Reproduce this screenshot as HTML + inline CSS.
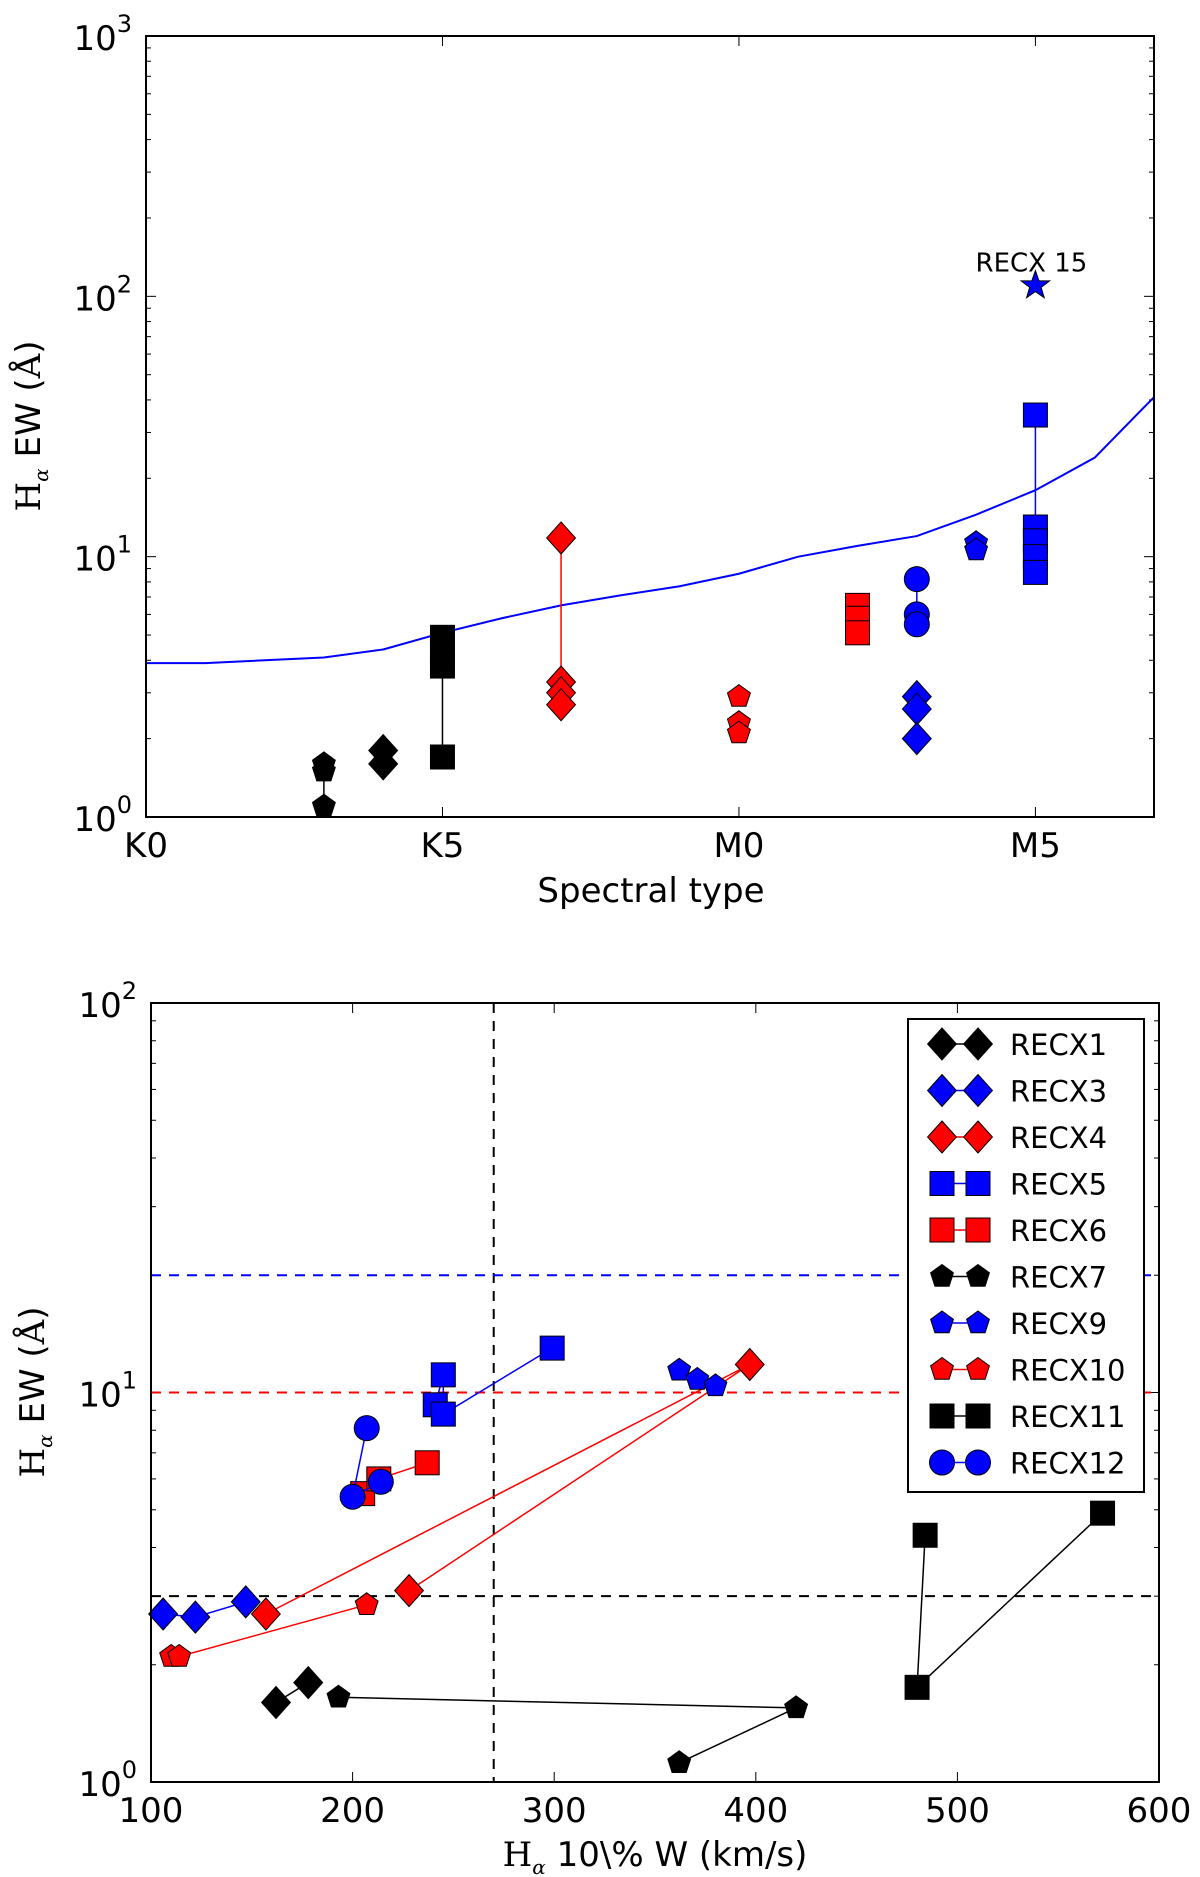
<!DOCTYPE html>
<html><head><meta charset="utf-8">
<style>
html,body{margin:0;padding:0;background:#fff;}
svg{display:block;font-family:"DejaVu Sans","Liberation Sans",sans-serif;}
</style></head>
<body>
<svg id="fig" width="1200" height="1877" viewBox="0 0 1200 1877" xmlns="http://www.w3.org/2000/svg"></svg>
<script>
// ---- Top chart data ----
const topCurveX = [0,1,3,4,5,6,7,8,9,10,11,12,13,14,15,16,17];
const topCurveY = [3.9,3.9,4.1,4.4,5.1,5.8,6.5,7.1,7.7,8.6,10,11,12,14.5,18,24,41];
const topXTickVals = [0,5,10,15];
const topXTickLabels = ["K0","K5","M0","M5"];
const topYTickExps = [0,1,2,3];
const topSeries = [
 {name:"RECX7", m:"pent", c:"#000", x:3, y:[1.6,1.5,1.1], line:true},
 {name:"RECX1", m:"diam", c:"#000", x:4, y:[1.8,1.6], line:false},
 {name:"RECX11", m:"sq", c:"#000", x:5, y:[4.9,4.3,3.8,1.7], line:true},
 {name:"RECX4", m:"diam", c:"#f00", x:7, y:[11.8,3.3,3.0,2.7], line:true},
 {name:"RECX10", m:"pent", c:"#f00", x:10, y:[2.9,2.3,2.1], line:false},
 {name:"RECX6", m:"sq", c:"#f00", x:12, y:[6.5,5.8,5.1], line:false},
 {name:"RECX12", m:"circ", c:"#00f", x:13, y:[8.2,6.0,5.5], line:true},
 {name:"RECX3", m:"diam", c:"#00f", x:13, y:[2.9,2.6,2.0], line:false},
 {name:"RECX9", m:"pent", c:"#00f", x:14, y:[11.3,10.6], line:false},
 {name:"RECX5", m:"sq", c:"#00f", x:15, y:[35,13,11.5,10,8.7], line:true}
];
const starX = 15, starY = 110;

// ---- Bottom chart data ----
const botXTicks = [100,200,300,400,500,600];
const botYTickExps = [0,1,2];
const botNames = ["RECX1","RECX3","RECX4","RECX5","RECX6","RECX7","RECX9","RECX10","RECX11","RECX12"];
const botMarkers = ["diam","diam","diam","sq","sq","pent","pent","pent","sq","circ"];
const botColors = ["#000","#00f","#f00","#00f","#f00","#000","#00f","#f00","#000","#00f"];
const botX = [[162,178],[106,122,147],[157,397,228],[241,245,245,299],[205,213,237],[193,420,362],[362,371,380],[110,114,207],[484,480,572],[207,200,214]];
const botY = [[1.6,1.8],[2.7,2.65,2.9],[2.7,11.8,3.1],[9.3,11.1,8.8,13],[5.5,6.0,6.6],[1.65,1.55,1.12],[11.4,10.8,10.4],[2.1,2.1,2.85],[4.3,1.75,4.9],[8.1,5.4,5.9]];
const vLineX = 270;
const hLines = [20,10,3];
const hLineColors = ["#00f","#f00","#000"];

const NS="http://www.w3.org/2000/svg";
const svg=document.getElementById('fig');
function el(tag,attrs,parent){const e=document.createElementNS(NS,tag);for(const k in attrs)e.setAttribute(k,attrs[k]);(parent||svg).appendChild(e);return e;}

function marker(g,type,cx,cy,color){
  let e;
  if(type==="diam"){const r=16;e=el('polygon',{points:`${cx},${cy-r} ${cx+r*0.9},${cy} ${cx},${cy+r} ${cx-r*0.9},${cy}`},g);}
  else if(type==="sq"){const r=12;e=el('rect',{x:cx-r,y:cy-r,width:2*r,height:2*r},g);}
  else if(type==="circ"){e=el('circle',{cx:cx,cy:cy,r:12.5},g);}
  else if(type==="pent"){const r=12;let p=[];for(let i=0;i<5;i++){const a=-Math.PI/2+i*2*Math.PI/5;p.push((cx+r*Math.cos(a)).toFixed(1)+","+(cy+r*Math.sin(a)).toFixed(1));}e=el('polygon',{points:p.join(" ")},g);}
  else if(type==="star"){const r=15,ri=6;let p=[];for(let i=0;i<10;i++){const a=-Math.PI/2+i*Math.PI/5;const rr=i%2?ri:r;p.push((cx+rr*Math.cos(a)).toFixed(1)+","+(cy+rr*Math.sin(a)).toFixed(1));}e=el('polygon',{points:p.join(" ")},g);}
  e.setAttribute('fill',color);e.setAttribute('stroke','#000');e.setAttribute('stroke-width','1');
  
  
  return e;
}

function logAxis(g,L,R,T,B,sy,exps){
  for(let i=0;i<exps.length;i++){
    const e=exps[i];const y=sy(Math.pow(10,e));
    el('line',{x1:L,y1:y,x2:L+10,y2:y,stroke:'#000','stroke-width':1},g);
    el('line',{x1:R,y1:y,x2:R-10,y2:y,stroke:'#000','stroke-width':1},g);
    const t=el('text',{x:L-14,y:y+14,'font-size':34,'text-anchor':'end',fill:'#000'},g);
    t.textContent="10";
    const s=el('tspan',{dy:-18,'font-size':24},t);s.textContent=e;
    
    
    if(i<exps.length-1){for(let m=2;m<10;m++){const ym=sy(m*Math.pow(10,e));
      el('line',{x1:L,y1:ym,x2:L+5,y2:ym,stroke:'#000','stroke-width':1},g);
      el('line',{x1:R,y1:ym,x2:R-5,y2:ym,stroke:'#000','stroke-width':1},g);}}
  }
}

// ===== TOP CHART =====
(function(){
  const L=146,R=1154,T=36,B=817;
  const sx=v=>L+(v-0)/17*(R-L);
  const sy=v=>B-(Math.log10(v)-0)/3*(B-T);
  const g=el('g',{});
  
  
  logAxis(g,L,R,T,B,sy,topYTickExps);
  for(let i=0;i<topXTickVals.length;i++){const x=sx(topXTickVals[i]);
    el('line',{x1:x,y1:B,x2:x,y2:B-10,stroke:'#000'},g);el('line',{x1:x,y1:T,x2:x,y2:T+10,stroke:'#000'},g);
    const t=el('text',{x:x,y:B+40,'font-size':34,'text-anchor':'middle'},g);t.textContent=topXTickLabels[i];
    
    }
  const pl=el('polyline',{points:topCurveX.map((x,i)=>sx(x)+","+sy(topCurveY[i])).join(" "),fill:'none',stroke:'#00f','stroke-width':2},g);
  
  
  topSeries.forEach(s=>{
    const sg=el('g',{},g);
    
    
    if(s.line){el('line',{x1:sx(s.x),x2:sx(s.x),y1:sy(Math.max(...s.y)),y2:sy(Math.min(...s.y)),stroke:s.c,'stroke-width':1.5},sg);}
    s.y.forEach(v=>marker(sg,s.m,sx(s.x),sy(v),s.c));
  });
  marker(g,"star",sx(starX),sy(starY),"#00f");
  const lab=el('text',{x:sx(starX)-4,y:sy(starY)-14,'font-size':26,'text-anchor':'middle'},g);lab.textContent="RECX 15";
  
  
  el('rect',{x:L,y:T,width:R-L,height:B-T,fill:'none',stroke:'#000','stroke-width':2},g);
  const xl=el('text',{x:651,y:902,'font-size':34,'text-anchor':'middle'},g);xl.textContent="Spectral type";
  
  
  const yl=el('text',{x:0,y:0,'font-size':34,'text-anchor':'middle',transform:'translate(40,426) rotate(-90)'},g);
  yl.innerHTML='<tspan font-family="DejaVu Serif,serif">H</tspan><tspan font-size="20" dy="8" font-style="italic" font-family="DejaVu Serif,serif">α</tspan><tspan dy="-8"> EW (</tspan><tspan font-family="DejaVu Serif,serif">Å</tspan>)';
  
  
})();

// ===== BOTTOM CHART =====
(function(){
  const L=151,R=1159,T=1003,B=1782;
  const sx=v=>L+(v-100)/500*(R-L);
  const sy=v=>B-Math.log10(v)/2*(B-T);
  const g=el('g',{});
  
  
  logAxis(g,L,R,T,B,sy,botYTickExps);
  botXTicks.forEach(v=>{const x=sx(v);
    el('line',{x1:x,y1:B,x2:x,y2:B-10,stroke:'#000'},g);el('line',{x1:x,y1:T,x2:x,y2:T+10,stroke:'#000'},g);
    const t=el('text',{x:x,y:B+40,'font-size':34,'text-anchor':'middle'},g);t.textContent=v;
    
    });
  const vl=el('line',{x1:sx(vLineX),x2:sx(vLineX),y1:T,y2:B,stroke:'#000','stroke-width':2,'stroke-dasharray':'10,8'},g);
  
  
  hLines.forEach((v,i)=>{const h=el('line',{x1:L,x2:R,y1:sy(v),y2:sy(v),stroke:hLineColors[i],'stroke-width':2,'stroke-dasharray':'10,8'},g);
    
    });
  botNames.forEach((n,i)=>{
    const sg=el('g',{},g);
    
    
    el('polyline',{points:botX[i].map((x,j)=>sx(x)+","+sy(botY[i][j])).join(" "),fill:'none',stroke:botColors[i],'stroke-width':1.5},sg);
    botX[i].forEach((x,j)=>marker(sg,botMarkers[i],sx(x),sy(botY[i][j]),botColors[i]));
  });
  el('rect',{x:L,y:T,width:R-L,height:B-T,fill:'none',stroke:'#000','stroke-width':2},g);
  const lg=el('g',{},g);
  
  
  el('rect',{x:908,y:1019,width:236,height:473,fill:'#fff',stroke:'#000','stroke-width':2},lg);
  botNames.forEach((n,i)=>{
    const y=1044+i*46.5;
    const eg=el('g',{},lg);
    
    
    el('line',{x1:942,x2:978,y1:y,y2:y,stroke:botColors[i],'stroke-width':1.5},eg);
    marker(eg,botMarkers[i],942,y,botColors[i]);marker(eg,botMarkers[i],978,y,botColors[i]);
    const t=el('text',{x:1010,y:y+11,'font-size':29},eg);t.textContent=n;
  });
  const xl=el('text',{x:655,y:1866,'font-size':34,'text-anchor':'middle'},g);
  xl.innerHTML='<tspan font-family="DejaVu Serif,serif">H</tspan><tspan font-size="20" dy="8" font-style="italic" font-family="DejaVu Serif,serif">α</tspan><tspan dy="-8"> 10\\% W (km/s)</tspan>';
  
  
  const yl=el('text',{x:0,y:0,'font-size':34,'text-anchor':'middle',transform:'translate(44,1392) rotate(-90)'},g);
  yl.innerHTML='<tspan font-family="DejaVu Serif,serif">H</tspan><tspan font-size="20" dy="8" font-style="italic" font-family="DejaVu Serif,serif">α</tspan><tspan dy="-8"> EW (</tspan><tspan font-family="DejaVu Serif,serif">Å</tspan>)';
  
  
})();
</script>
</body></html>
